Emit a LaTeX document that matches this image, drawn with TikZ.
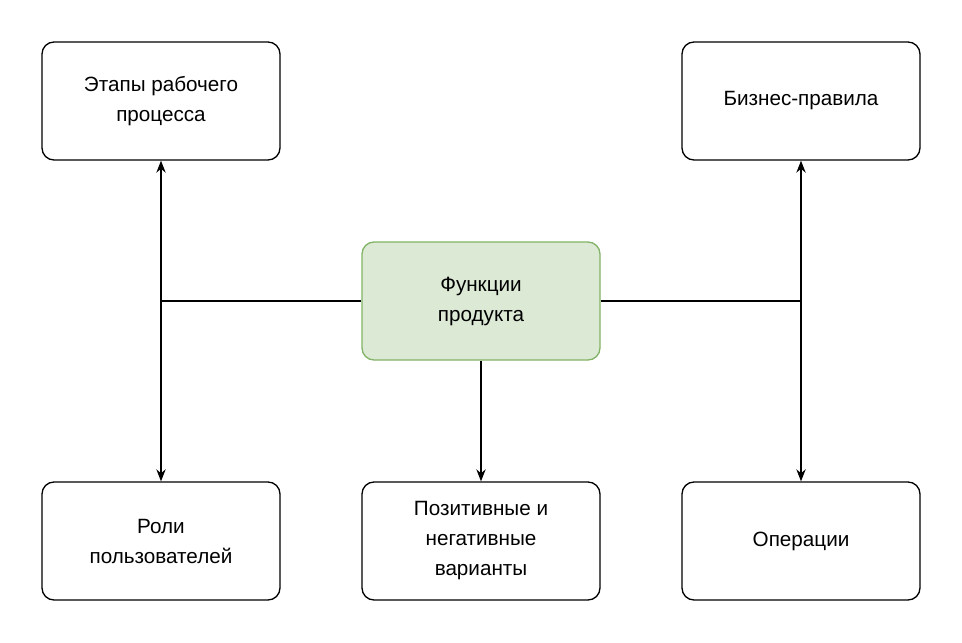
\documentclass[tikz,border=0pt]{standalone}
\usepackage{fontspec}
\setmainfont{Liberation Sans}
\usetikzlibrary{arrows.meta}
\definecolor{gfill}{HTML}{DCE9D5}
\definecolor{gdraw}{HTML}{82B366}
\begin{document}
\begin{tikzpicture}[x=0.75pt,y=-0.75pt,
  box/.style={draw=black,line width=1pt,rounded corners=9pt,minimum width=178.5pt,minimum height=88.5pt,align=center,font=\fontsize{15.5}{22.5}\selectfont,fill=white},
  conn/.style={line width=1pt},
  arr/.style={-{Stealth[length=9pt,width=7pt]}}]
\useasboundingbox[fill=white] (0,0) rectangle (962,642);
\node[box] (tl) at (161,101) {Этапы рабочего\\процесса};
\node[box] (tr) at (801,101) {Бизнес-правила};
\node[box,fill=gfill,draw=gdraw] (c) at (481,301) {Функции\\продукта};
\node[box] (bl) at (161,541) {Роли\\пользователей};
\node[box] (bm) at (481,541) {Позитивные и\\негативные\\варианты};
\node[box] (br) at (801,541) {Операции};
\coordinate (jl) at (161,301);
\coordinate (jr) at (801,301);
\draw[conn,{Stealth[length=9pt,width=7pt]}-{Stealth[length=9pt,width=7pt]}] (tl.south) -- (bl.north);
\draw[conn,{Stealth[length=9pt,width=7pt]}-{Stealth[length=9pt,width=7pt]}] (tr.south) -- (br.north);
\draw[conn] (c.west) -- (jl);
\draw[conn] (c.east) -- (jr);
\draw[conn,arr] (c.south) -- (bm.north);
\end{tikzpicture}
\end{document}
